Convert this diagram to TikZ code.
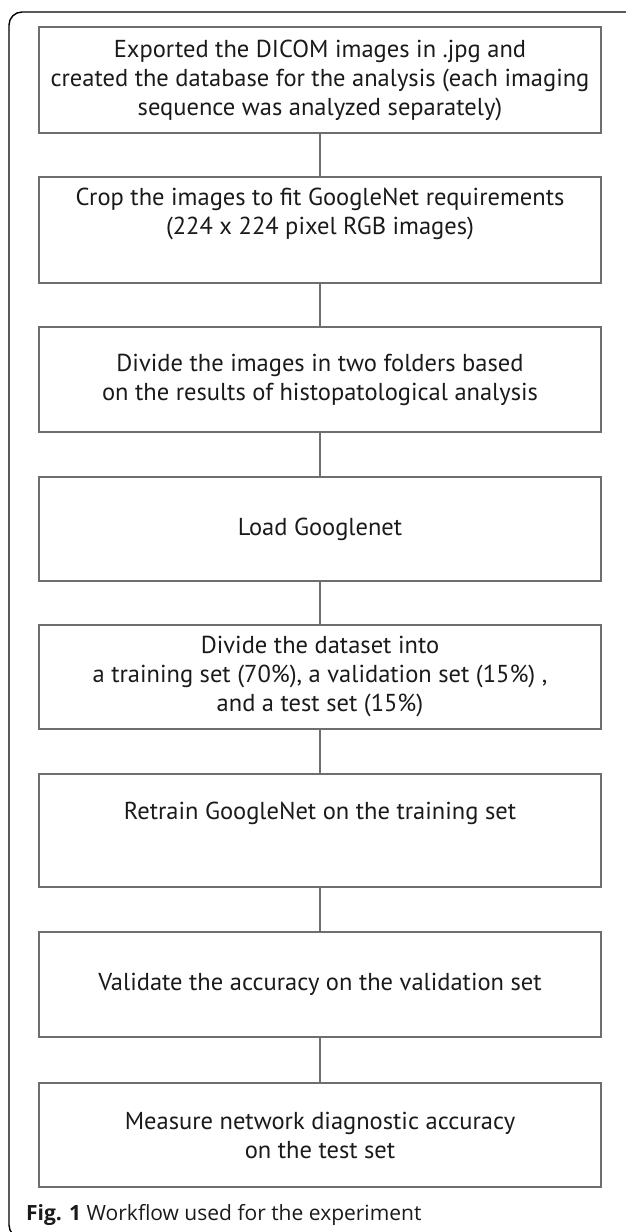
\documentclass[tikz,border=0pt]{standalone}
\usepackage{fontspec}
\setmainfont{PT Sans}
\newfontfamily\capfont{Open Sans}
\definecolor{boxgray}{HTML}{6E6E6E}
\definecolor{textc}{HTML}{1A1A1A}
\begin{document}
\begin{tikzpicture}[x=1pt,y=-1pt,
  stepbox/.style={draw=boxgray, line width=1.5pt, minimum width=562pt, inner sep=0pt,
    align=center, font=\fontsize{24.5}{29}\selectfont, text=textc},
  conn/.style={draw=boxgray, line width=1.2pt},
  frame/.style={draw=black, line width=1.4pt, rounded corners=13pt}]
\useasboundingbox (0,0) rectangle (625,1232);
\draw[frame] (9,12) rectangle (660,1238);
\node[stepbox, minimum height=106pt] (b1) at (320,80)
  {Exported the DICOM images in .jpg and\\created the database for the analysis (each imaging\\sequence was analyzed separately)};
\node[stepbox, minimum height=106pt] (b2) at (320,230)
  {Crop the images to fit GoogleNet requirements\\(224 x 224 pixel RGB images)\\[8pt]};
\node[stepbox, minimum height=105pt] (b3) at (320,379.5)
  {Divide the images in two folders based\\on the results of histopatological analysis};
\node[stepbox, minimum height=104pt] (b4) at (320,529)
  {Load Googlenet};
\node[stepbox, minimum height=104pt] (b5) at (320,677)
  {Divide the dataset into\\a training set (70\%), a validation set (15\%) ,\\and a test set (15\%)};
\node[stepbox, minimum height=113pt] (b6) at (320,830.5)
  {Retrain GoogleNet on the training set\\[10pt]};
\node[stepbox, minimum height=105pt] (b7) at (320,984.5)
  {Validate the accuracy on the validation set};
\node[stepbox, minimum height=104pt] (b8) at (320,1135)
  {Measure network diagnostic accuracy\\on the test set};
\foreach \a/\b in {b1/b2,b2/b3,b3/b4,b4/b5,b5/b6,b6/b7,b7/b8}
  \draw[conn] (\a.south) -- (\b.north);
\node[anchor=west, inner sep=0pt, font=\capfont\fontsize{21}{24}\selectfont, text=textc] (cap) at (26,1215)
  {\textbf{Fig. 1} Workflow used for the experiment};
\end{tikzpicture}
\end{document}
